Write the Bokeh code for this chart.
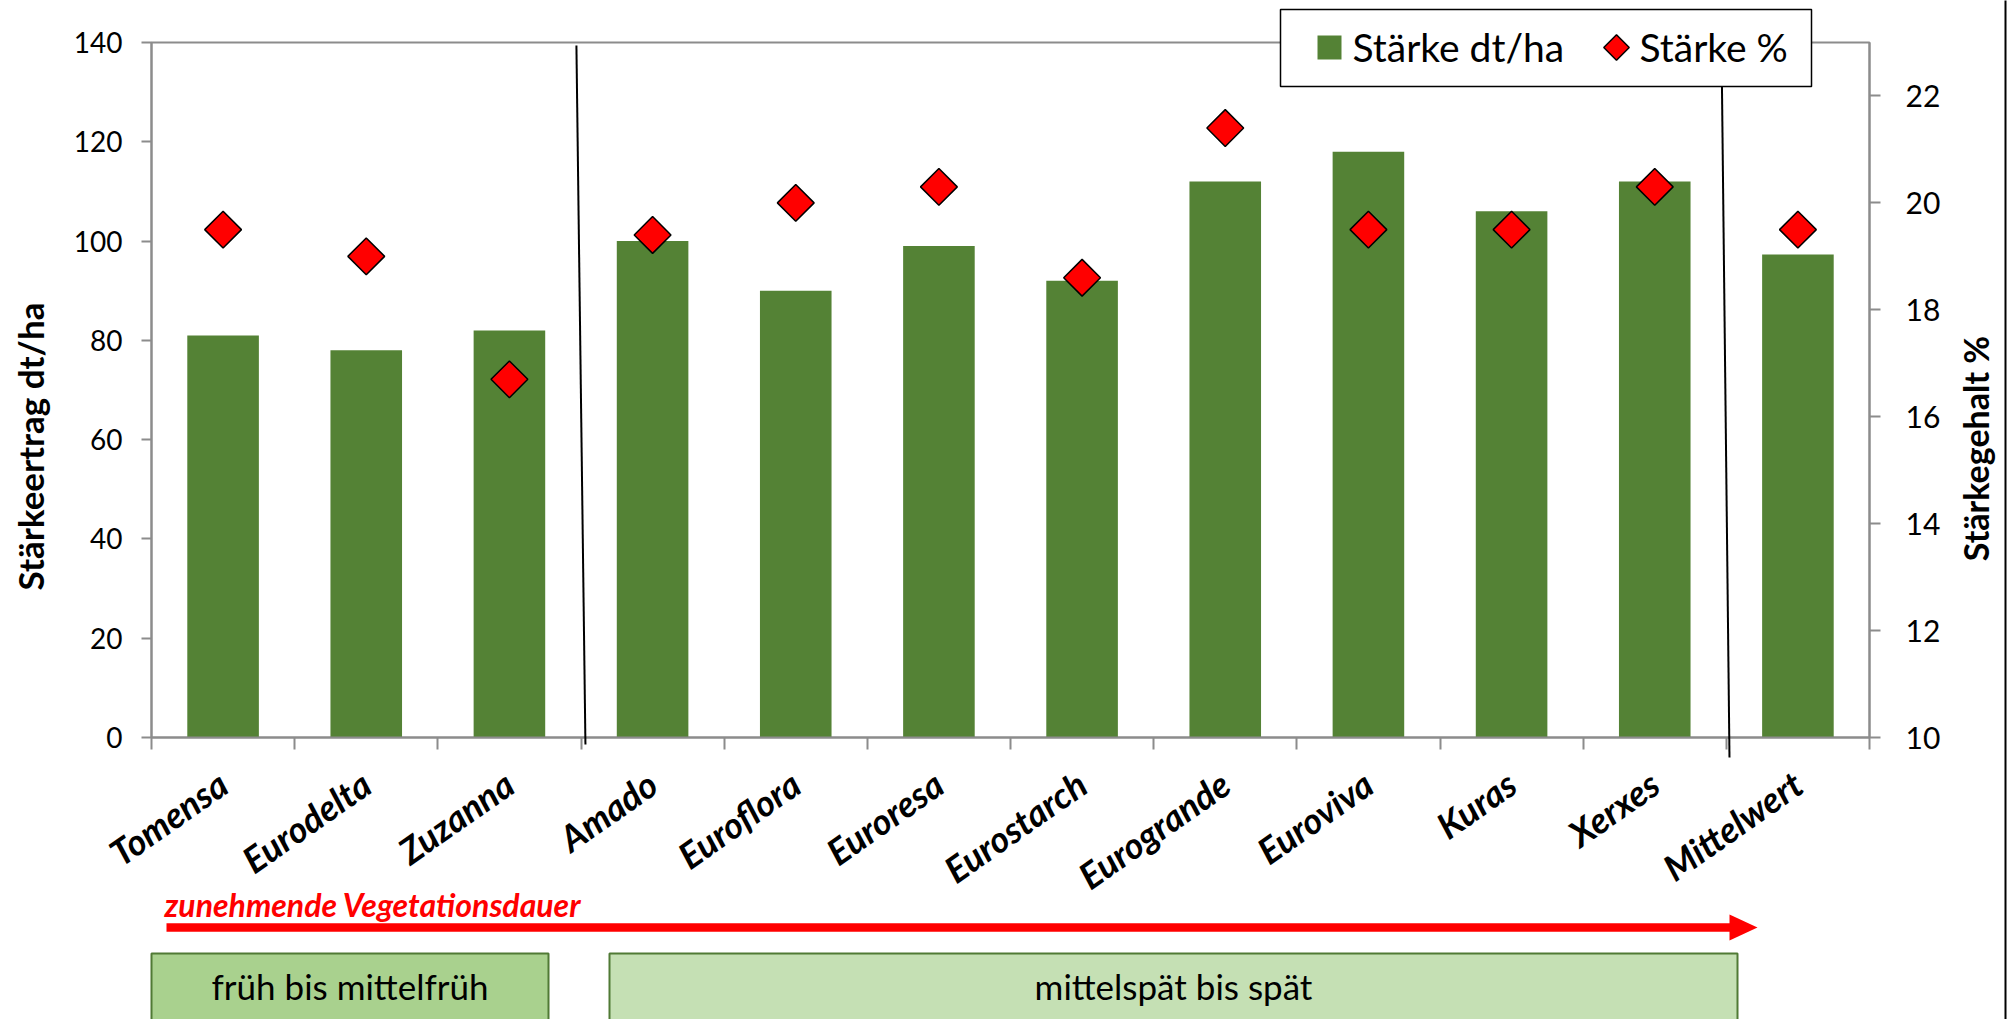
import numpy as np
from bokeh.plotting import figure
from bokeh.models import Range1d, LinearAxis, FixedTicker
from bokeh.embed import file_html
from bokeh.resources import INLINE
from bokeh.core.properties import value

# ---------------- data ----------------
categories = ["Tomensa", "Eurodelta", "Zuzanna", "Amado", "Euroflora", "Euroresa",
              "Eurostarch", "Eurogrande", "Euroviva", "Kuras", "Xerxes", "Mittelwert"]
starch_yield = [81, 78, 82, 100, 90, 99, 92, 112, 118, 106, 112, 97.3]      # dt/ha
starch_pct = [19.5, 19.0, 16.7, 19.4, 20.0, 20.3, 18.6, 21.4, 19.5, 19.5, 20.3, 19.5]  # %
left_ticks = [0, 20, 40, 60, 80, 100, 120, 140]
right_ticks = [10, 12, 14, 16, 18, 20, 22]
series_names = ["Stärke dt/ha", "Stärke %"]
axis_titles = ["Stärkeertrag dt/ha", "Stärkegehalt %"]
group_labels = ["früh bis mittelfrüh", "mittelspät bis spät"]
group_sizes = [3, 8]          # varieties per maturity group (rest = mean)
trend_label = "zunehmende Vegetationsdauer"

# ---------------- styling ----------------
FONT = value("Lato")
GREEN = "#548235"
GRAY = "#8c8c8c"
n = len(categories)
centers = np.arange(n) + 0.5

W, H = 2011, 1019
FR_L, FR_R, FR_T, FR_B = 151, 1869, 42, 737
UX = (FR_R - FR_L) / n
UY = (FR_B - FR_T) / left_ticks[-1]
def dx(X):
    return (X - FR_L) / UX
def dy(Y):
    return (FR_B - Y) / UY
def base(Y, size):
    # alphabetic baseline compensation for the svg text renderer
    return dy(Y - 0.35 * size)

p = figure(width=W, height=H, x_range=Range1d(0, n), y_range=Range1d(0, left_ticks[-1]),
           output_backend="svg", toolbar_location=None,
           min_border_left=FR_L, min_border_right=W - FR_R, min_border_top=FR_T,
           min_border_bottom=H - FR_B,
           background_fill_color="white", border_fill_color="white")
p.xgrid.visible = False
p.ygrid.visible = False
p.outline_line_color = GRAY
p.outline_line_width = 2

# bars
p.vbar(x=centers, top=starch_yield, width=0.5, fill_color=GREEN, line_color=None)

# diamonds on secondary axis
p.extra_y_ranges = {"pct": Range1d(10, 23)}
p.scatter(x=centers, y=starch_pct, y_range_name="pct", marker="square", angle=np.pi / 4,
          size=26, fill_color="#ff0000", line_color="black", line_width=1.5)

# x axis
xa = p.xaxis[0]
xa.ticker = FixedTicker(ticks=list(centers), minor_ticks=list(range(n + 1)))
xa.major_label_overrides = {float(c): name for c, name in zip(centers, categories)}
xa.major_tick_line_color = None
xa.major_tick_out = 0
xa.major_tick_in = 0
xa.minor_tick_out = 12
xa.minor_tick_in = 0
xa.minor_tick_line_color = GRAY
xa.minor_tick_line_width = 2
xa.axis_line_color = GRAY
xa.axis_line_width = 2
xa.major_label_orientation = np.deg2rad(35)
xa.major_label_text_font = "Lato"
xa.major_label_text_font_style = "bold italic"
xa.major_label_text_font_size = "36px"
xa.major_label_text_color = "black"
xa.major_label_standoff = 30

# left axis
ya = p.yaxis[0]
ya.ticker = FixedTicker(ticks=left_ticks)
ya.major_tick_out = 10
ya.major_tick_in = 0
ya.minor_tick_line_color = None
ya.major_tick_line_color = GRAY
ya.major_tick_line_width = 2
ya.axis_line_color = GRAY
ya.axis_line_width = 2
ya.major_label_text_font = "Lato"
ya.major_label_text_font_size = "28px"
ya.major_label_text_color = "black"
ya.major_label_standoff = 19

# right axis
ra = LinearAxis(y_range_name="pct", ticker=FixedTicker(ticks=right_ticks))
ra.major_tick_out = 11
ra.major_tick_in = 0
ra.minor_tick_line_color = None
ra.major_tick_line_color = GRAY
ra.major_tick_line_width = 2
ra.axis_line_color = GRAY
ra.axis_line_width = 2
ra.major_label_text_font = "Lato"
ra.major_label_text_font_size = "30px"
ra.major_label_text_color = "black"
ra.major_label_standoff = 25
p.add_layout(ra, "right")

# axis titles (offset below frame centre as in the original)
p.text(x=[dx(29)], y=[dy(446)], text=[axis_titles[0]], angle=np.pi / 2, text_align="center",
       text_baseline="middle", text_font=FONT, text_font_style="bold", text_font_size="35px",
       text_color="black", level="annotation")
p.text(x=[dx(1975)], y=[dy(448)], text=[axis_titles[1]], angle=np.pi / 2, text_align="center",
       text_baseline="middle", text_font=FONT, text_font_style="bold", text_font_size="34px",
       text_color="black", level="annotation")

# group divider lines (slightly slanted as in the original)
b1 = group_sizes[0]
b2 = group_sizes[0] + group_sizes[1]
p.segment(x0=[b1 - 0.032, b2 - 0.034], y0=[dy(45), dy(42)],
          x1=[b1 + 0.031, b2 + 0.022], y1=[dy(744), dy(757)],
          line_color="black", line_width=2, level="annotation")

# outer frame line at right edge
p.segment(x0=[dx(2005)], y0=[dy(0)], x1=[dx(2005)], y1=[dy(H)],
          line_color="black", line_width=2, level="annotation")

# legend (drawn manually, overlapping top of frame)
p.quad(left=[dx(1280)], right=[dx(1811)], top=[dy(9)], bottom=[dy(86)],
       fill_color="white", line_color="black", line_width=1.5, level="overlay")
p.scatter(x=[dx(1329)], y=[dy(47)], marker="square", size=24, fill_color=GREEN,
          line_color=None, level="overlay")
p.text(x=[dx(1352)], y=[base(60, 39)], text=[series_names[0]], text_align="left",
       text_baseline="alphabetic", text_font=FONT, text_font_size="39px",
       text_color="black", level="overlay")
p.scatter(x=[dx(1616)], y=[dy(47)], marker="square", angle=np.pi / 4, size=18,
          fill_color="#ff0000", line_color="black", line_width=1.5, level="overlay")
p.text(x=[dx(1639)], y=[base(60, 39)], text=[series_names[1]], text_align="left",
       text_baseline="alphabetic", text_font=FONT, text_font_size="39px",
       text_color="black", level="overlay")

# trend arrow and label
p.text(x=[dx(164)], y=[base(915, 32)], text=[trend_label], text_align="left",
       text_baseline="alphabetic", text_font=FONT, text_font_style="bold italic",
       text_font_size="32px", text_color="#ff0000", level="annotation")
p.quad(left=[dx(166)], right=[dx(1730)], top=[dy(922.7)], bottom=[dy(931.2)],
       fill_color="#ff0000", line_color=None, level="annotation")
p.patch(x=[dx(1729), dx(1757), dx(1729)], y=[dy(914), dy(927), dy(940)],
        fill_color="#ff0000", line_color=None, level="annotation")

# maturity group boxes
p.quad(left=[dx(151), dx(609)], right=[dx(548), dx(1737)], top=[dy(953)] * 2,
       bottom=[dy(1045)] * 2, fill_color=["#a9d18e", "#c5e0b4"], line_color="#507a35",
       line_width=2, level="annotation")
p.text(x=[dx(349.5), dx(1173)], y=[base(998, 35)] * 2, text=group_labels, text_align="center",
       text_baseline="alphabetic", text_font=FONT, text_font_size="35px",
       text_color="black", level="annotation")

open("out.html", "w").write(file_html(p, INLINE))
